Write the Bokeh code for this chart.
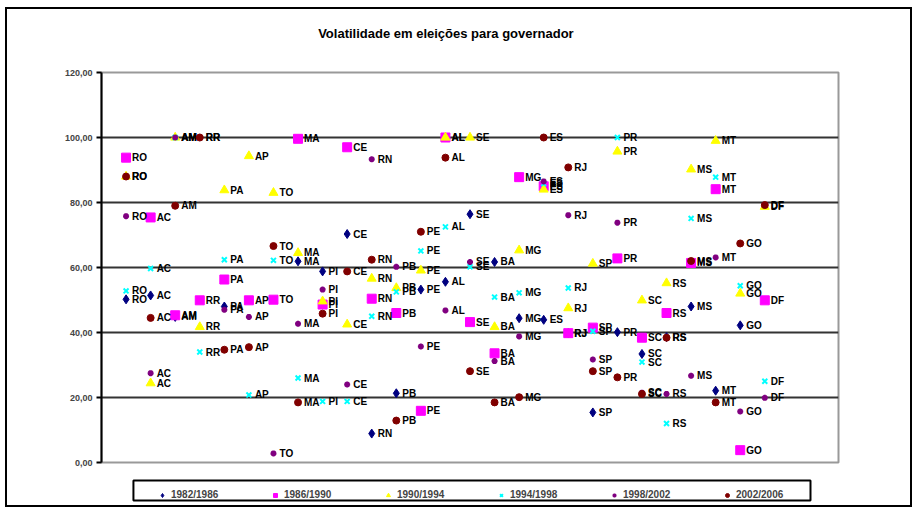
import math
from bokeh.plotting import figure
from bokeh.layouts import column
from bokeh.models import (ColumnDataSource, Legend, LegendItem, Range1d, FixedTicker,
                          Label, BoxAnnotation)
from bokeh.core.properties import value
from bokeh.embed import file_html
from bokeh.resources import INLINE

chart_title = "Volatilidade em eleições para governador"
states = ["RO", "AC", "AM", "RR", "PA", "AP", "TO", "MA", "PI", "CE", "RN", "PB", "PE", "AL",
          "SE", "BA", "MG", "ES", "RJ", "SP", "PR", "SC", "RS", "MS", "MT", "GO", "DF"]
series_names = ["1982/1986", "1986/1990", "1990/1994", "1994/1998", "1998/2002", "2002/2006"]
N = None
v8286 = [50.2, 51.4, 44.8, N, 48.0, N, N, 61.9, 58.8, 70.3, 8.9, 21.3, 53.2, 55.6,
         76.4, 61.7, 44.4, 43.9, 39.8, 15.4, 40.1, 33.4, 38.6, 48.0, 22.1, 42.2, N]
v8690 = [93.8, 75.4, 45.3, 49.9, 56.3, 49.9, 50.1, 99.6, 48.6, 97.0, 50.4, 46.0, 15.9, 100.0,
         43.2, 33.6, 87.8, 85.0, 39.8, 41.5, 62.8, 38.4, 46.0, 61.4, 84.1, 3.8, 49.9]
v9094 = [88.0, 24.4, 100.0, 41.7, 83.8, 94.3, 83.0, 64.5, 49.6, 42.5, 56.6, 53.7, 59.1, 100.0,
         100.0, 41.7, 65.3, 84.0, 47.5, 61.2, 95.7, 49.9, 55.2, 90.2, 99.0, 52.0, 78.7]
v9498 = [52.8, 59.7, 100.0, 34.0, 62.4, 20.8, 62.2, 26.0, 18.8, 18.8, 45.0, 52.5, 65.1, 72.5,
         60.2, 50.9, 52.2, 85.8, 53.7, 40.4, 100.0, 30.9, 12.0, 75.1, 87.8, 54.4, 25.0]
v9802 = [75.8, 27.5, 100.0, 100.0, 47.0, 44.8, 2.8, 42.7, 53.2, 24.0, 93.3, 60.2, 35.7, 46.8,
         61.7, 31.2, 38.8, 86.5, 76.1, 31.7, 73.8, 21.5, 21.1, 26.7, 63.1, 15.7, 19.9]
v0206 = [88.0, 44.5, 79.0, 100.0, 34.7, 35.5, 66.6, 18.5, 45.8, 58.8, 62.4, 12.9, 71.0, 93.8,
         28.1, 18.5, 20.1, 100.0, 90.8, 28.1, 26.2, 21.1, 38.4, 62.0, 18.5, 67.4, 79.2]
y_ticks = [0, 20, 40, 60, 80, 100, 120]
y_tick_labels = ["0,00", "20,00", "40,00", "60,00", "80,00", "100,00", "120,00"]

all_series = [v8286, v8690, v9094, v9498, v9802, v0206]
styles = [
    dict(marker="diamond", size=9, fill_color="#000080", line_color="#000080"),
    dict(marker="square", size=9, fill_color="#FF00FF", line_color="#FF00FF"),
    dict(marker="triangle", size=9, fill_color="#FFFF00", line_color="#FFFF00"),
    dict(marker="x", size=7, fill_color="#00FFFF", line_color="#00FFFF", line_width=2),
    dict(marker="asterisk", size=6, fill_color="#800080", line_color="#800080", line_width=2),
    dict(marker="circle", size=7, fill_color="#800000", line_color="#800000"),
]


def strip(h):
    f = figure(width=903, height=h, output_backend="svg", toolbar_location=None,
               x_range=Range1d(0, 30), y_range=Range1d(0, 1),
               min_border_left=0, min_border_right=0, min_border_top=0, min_border_bottom=0)
    f.xaxis.visible = False
    f.yaxis.visible = False
    f.grid.visible = False
    f.outline_line_color = None
    return f


# title strip
pt = strip(55)
pt.add_layout(Label(x=14.02, y=0.56, text=chart_title, text_align="center",
                    text_baseline="middle", text_font="Liberation Sans",
                    text_font_size="13px", text_font_style="bold", text_color="black"))

# main chart
p = figure(width=903, height=406, output_backend="svg", toolbar_location=None,
           x_range=Range1d(0, 30), y_range=Range1d(0, 120),
           min_border_left=94, min_border_right=72, min_border_top=8, min_border_bottom=8)
p.xaxis.visible = False
p.xgrid.visible = False
p.yaxis.ticker = FixedTicker(ticks=y_ticks)
p.yaxis.major_label_overrides = {t: l for t, l in zip(y_ticks, y_tick_labels)}
p.yaxis.axis_line_color = "black"
p.yaxis.axis_line_width = 2
p.yaxis.major_tick_in = 0
p.yaxis.major_tick_out = 5
p.yaxis.major_tick_line_width = 2
p.yaxis.minor_tick_line_color = None
p.yaxis.major_label_text_font = "Liberation Sans"
p.yaxis.major_label_text_font_size = "9px"
p.yaxis.major_label_text_font_style = "bold"
p.yaxis.major_label_standoff = 4
p.ygrid.ticker = FixedTicker(ticks=y_ticks[1:-1])
p.ygrid.grid_line_color = "#333333"
p.ygrid.grid_line_width = 2
p.outline_line_color = "#999999"
p.outline_line_width = 2

# legend strip
pl = strip(35)
pl.add_layout(BoxAnnotation(left=1.30, right=28.86, bottom=0.143, top=0.714,
                            fill_color=None, line_color="black", line_width=2,
                            line_alpha=1.0))

items = []
for name, vals, st in zip(series_names, all_series, styles):
    xs, ys, labs = [], [], []
    for i, v in enumerate(vals):
        if v is not None:
            xs.append(i + 1)
            ys.append(v)
            labs.append(states[i])
    src = ColumnDataSource(dict(x=xs, y=ys, lab=labs))
    p.scatter("x", "y", source=src, **st)
    p.text("x", "y", text="lab", source=src, x_offset=6, text_baseline="middle",
           text_font=value("Liberation Sans"), text_font_size="10px",
           text_font_style="bold", text_color="black")
    rl = pl.scatter("x", "y", source=src, **st)   # out of the strip's view
    items.append(LegendItem(label=name, renderers=[rl]))

legend = Legend(items=items, orientation="horizontal", location=(56, 5),
                glyph_width=10, glyph_height=10, label_standoff=4, label_width=99,
                spacing=0, padding=5, margin=0,
                label_text_font="Liberation Sans", label_text_font_size="10px",
                label_text_font_style="bold",
                border_line_color=None, background_fill_alpha=0)
pl.add_layout(legend, "center")

layout = column(pt, p, pl, spacing=0)
layout.styles = {"border": "2px solid black", "margin-left": "5px", "margin-top": "7px"}

open("out.html", "w").write(file_html(layout, INLINE))
